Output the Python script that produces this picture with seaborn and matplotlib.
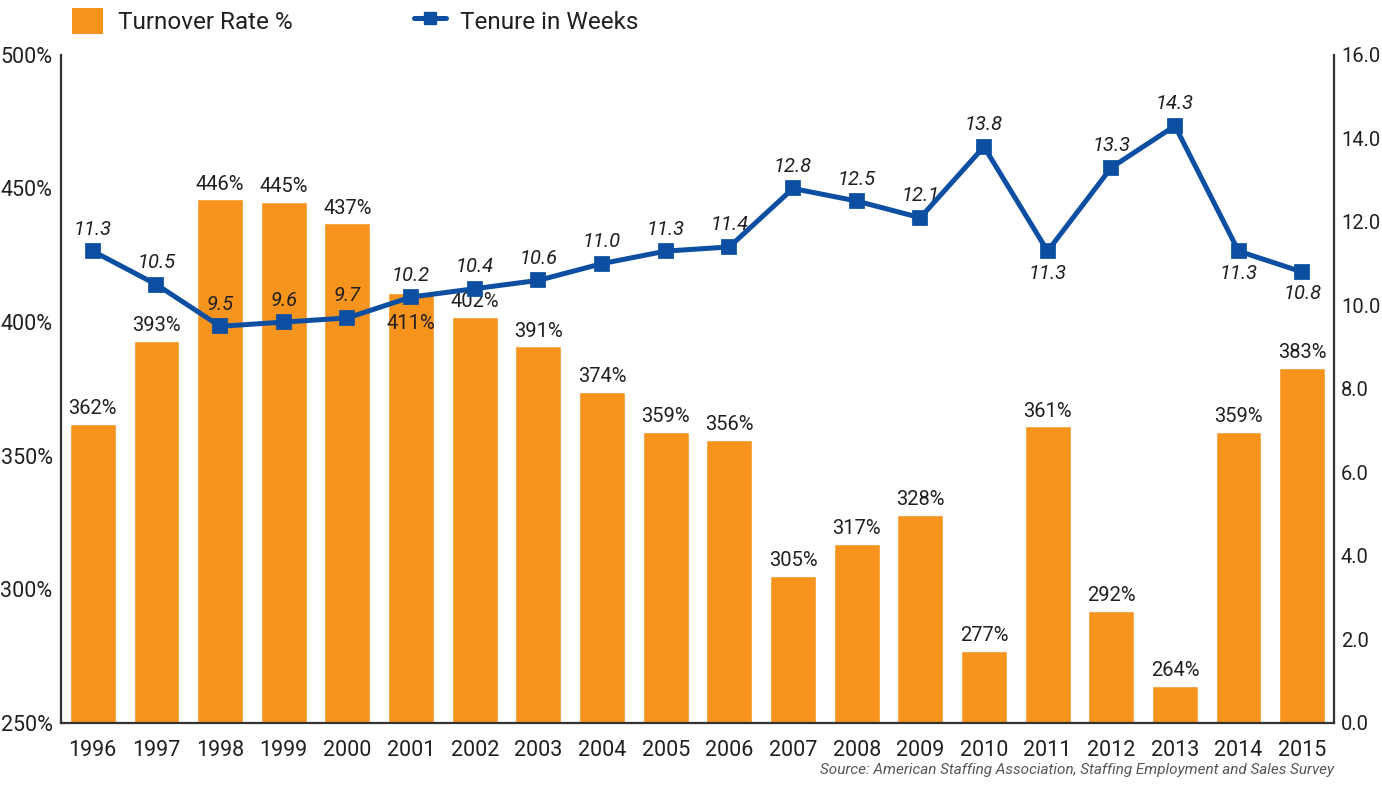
import matplotlib
matplotlib.use("Agg")
import matplotlib.pyplot as plt
import seaborn as sns
import numpy as np
import pandas as pd
from matplotlib import font_manager
from matplotlib.lines import Line2D
from matplotlib.patches import Patch

years = ["1996", "1997", "1998", "1999", "2000", "2001", "2002", "2003", "2004", "2005",
         "2006", "2007", "2008", "2009", "2010", "2011", "2012", "2013", "2014", "2015"]
turnover = [362, 393, 446, 445, 437, 411, 402, 391, 374, 359,
            356, 305, 317, 328, 277, 361, 292, 264, 359, 383]
tenure = [11.3, 10.5, 9.5, 9.6, 9.7, 10.2, 10.4, 10.6, 11.0, 11.3,
          11.4, 12.8, 12.5, 12.1, 13.8, 11.3, 13.3, 14.3, 11.3, 10.8]
tenure_below = ["2011", "2014", "2015"]
bar_label_inside = ["2001"]

left_ticks = [250, 300, 350, 400, 450, 500]
right_ticks = [0, 2, 4, 6, 8, 10, 12, 14, 16]

ORANGE = "#F7941E"
BLUE = "#0B4EA2"
TXT = "#231F20"

sns.set_theme(style="white")
names = {f.name for f in font_manager.fontManager.ttflist}
fam = "Liberation Sans Narrow" if "Liberation Sans Narrow" in names else "Roboto"
plt.rcParams["font.family"] = [fam, "DejaVu Sans"]

df = pd.DataFrame({"year": years, "turnover": turnover, "tenure": tenure})

fig = plt.figure(figsize=(13.82, 7.86), dpi=100)
ax = fig.add_axes([0.0441, 0.0802, 0.9212, 0.850])
sns.barplot(data=df, x="year", y="turnover", color=ORANGE, saturation=1,
            width=0.72, ax=ax, zorder=2)
ax.set_ylim(250, 500)
ax.set_yticks(left_ticks)
ax.set_yticklabels([f"{t}%" for t in left_ticks])
ax.set_xlim(-0.5, len(years) - 0.5)
ax.set_xlabel("")
ax.set_ylabel("")

ax2 = ax.twinx()
ax2.set_position(ax.get_position())
sns.pointplot(data=df, x="year", y="tenure", color=BLUE, markers="s",
              markersize=8, linewidth=3.6, ax=ax2, zorder=4)
ax2.set_ylim(0, 16)
ax2.set_yticks(right_ticks)
ax2.set_yticklabels([f"{t:.1f}" for t in right_ticks])
ax2.set_xlim(-0.5, len(years) - 0.5)
ax2.set_xlabel("")
ax2.set_ylabel("")

for a in (ax, ax2):
    a.spines["top"].set_visible(False)
    for s in ("left", "bottom", "right"):
        a.spines[s].set_color("#333333")
        a.spines[s].set_linewidth(1.6)
    a.tick_params(length=0, labelsize=15.5, colors=TXT, pad=6)
ax.tick_params(axis="x", pad=12)
ax2.tick_params(axis="y", labelsize=14.5, pad=5)
ax.spines["right"].set_visible(False)
ax2.spines["left"].set_visible(False)
ax2.spines["bottom"].set_visible(False)

for i, (y, v) in enumerate(zip(years, turnover)):
    if y in bar_label_inside:
        ax.annotate(f"{v}%", (i, v), xytext=(0, -15), textcoords="offset points",
                    ha="center", va="top", fontsize=14.5, color=TXT, zorder=5)
    else:
        ax.annotate(f"{v}%", (i, v), xytext=(0, 4), textcoords="offset points",
                    ha="center", va="bottom", fontsize=14.5, color=TXT, zorder=5)

for i, (y, v) in enumerate(zip(years, tenure)):
    if y in tenure_below:
        ax2.annotate(f"{v:.1f}", (i, v), xytext=(0, -9), textcoords="offset points",
                     ha="center", va="top", fontsize=14.5, style="italic", color=TXT)
    else:
        ax2.annotate(f"{v:.1f}", (i, v), xytext=(0, 9), textcoords="offset points",
                     ha="center", va="bottom", fontsize=14.5, style="italic", color=TXT)

handles = [Patch(facecolor=ORANGE, edgecolor="none", label="Turnover Rate %"),
           Line2D([0], [0], color=BLUE, lw=3.6, marker="s", markersize=8,
                  label="Tenure in Weeks")]
fig.legend(handles=handles, loc="upper left", bbox_to_anchor=(0.036, 1.018), ncol=2,
           frameon=False, fontsize=17.5, handlelength=1.3, handleheight=1.3,
           columnspacing=5, handletextpad=0.6, labelcolor=TXT)

fig.text(0.965, 0.012, "Source: American Staffing Association, Staffing Employment and Sales Survey",
         ha="right", va="bottom", fontsize=11, style="italic", color="#555555")

fig.savefig("out.png", dpi=100)
